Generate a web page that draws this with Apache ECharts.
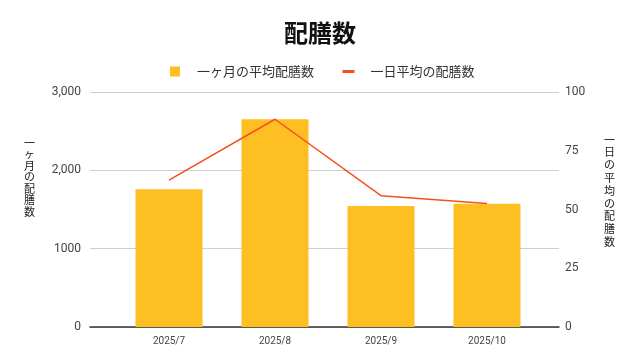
<!DOCTYPE html>
<html>
<head>
<meta charset="utf-8">
<script src="https://cdn.jsdelivr.net/npm/echarts@6/dist/echarts.min.js"></script>
<style>html,body{margin:0;padding:0;background:#fff;}#c{width:640px;height:360px;}</style>
</head>
<body>
<div id="c"></div>
<script>
var titleText = '配膳数';
var categories = ['2025/7', '2025/8', '2025/9', '2025/10'];
var monthlyName = '一ヶ月の平均配膳数';
var dailyName = '一日平均の配膳数';
var monthlyValues = [1758, 2651, 1545, 1574];
var dailyValues = [62.5, 88.4, 55.9, 52.6];
var leftTickLabels = {0: '0', 1000: '1000', 2000: '2,000', 3000: '3,000'};
var leftAxisName = '一ヶ月の配膳数';
var rightAxisName = '一日の平均の配膳数';

var cjk = "'Noto Sans CJK JP', 'Noto Sans', sans-serif";
var num = "Roboto, sans-serif";
var chart = echarts.init(document.getElementById('c'));
chart.setOption({
  animation: false,
  backgroundColor: '#fff',
  title: {
    text: titleText, left: 'center', top: 16,
    textStyle: {fontFamily: cjk, fontSize: 24, fontWeight: 'bold', color: '#111'}
  },
  legend: {
    top: 60, left: 165, itemGap: 27, itemWidth: 12, itemHeight: 10,
    textStyle: {fontFamily: cjk, fontSize: 13, color: '#333', padding: [0, 0, 0, 11]},
    data: [
      {name: monthlyName, icon: 'path://M0,0L10,0L10,10L0,10Z', itemStyle: {color: '#fdbf21'}},
      {name: dailyName, lineStyle: {width: 3, color: '#f4511e'}, itemStyle: {opacity: 0}}
    ]
  },
  graphic: [
    {type: 'text', left: 24, top: 137, style: {text: leftAxisName.split('').join('\n'), font: "11px 'Noto Sans CJK JP'", fill: '#222', lineHeight: 11.5, align: 'center'}},
    {type: 'text', left: 604, top: 133, style: {text: rightAxisName.split('').join('\n'), font: "11px 'Noto Sans CJK JP'", fill: '#222', lineHeight: 12.8, align: 'center'}}
  ],
  grid: [
    {left: 90, right: 81, top: 92, bottom: 33},
    {left: 116, right: 100, top: 92, bottom: 33}
  ],
  xAxis: [
    {type: 'value', gridIndex: 0, min: 0, max: 1, axisLabel: {show: false}, axisTick: {show: false}, splitLine: {show: false},
     axisLine: {show: true, lineStyle: {color: '#333', width: 1.5}}},
    {type: 'category', gridIndex: 1, data: categories, axisLine: {show: false}, axisTick: {show: false},
     axisLabel: {margin: 9, fontFamily: num, fontSize: 10, color: '#444'}}
  ],
  yAxis: [
    {type: 'value', gridIndex: 0, min: 0, max: 3000, interval: 1000, position: 'left',
     axisLine: {show: false}, axisTick: {show: false},
     splitLine: {show: true, lineStyle: {color: '#cfcfcf', width: 1}},
     axisLabel: {margin: 9, fontFamily: num, fontSize: 12, color: '#444', formatter: function (v) { return leftTickLabels[v]; }}},
    {type: 'value', gridIndex: 0, min: 0, max: 100, interval: 25, position: 'right',
     axisLine: {show: false}, axisTick: {show: false}, splitLine: {show: false},
     axisLabel: {margin: 6, fontFamily: num, fontSize: 12, color: '#444'}},
    {type: 'value', gridIndex: 1, min: 0, max: 3000, show: false},
    {type: 'value', gridIndex: 1, min: 0, max: 100, show: false, position: 'right'}
  ],
  series: [
    {name: monthlyName, type: 'bar', xAxisIndex: 1, yAxisIndex: 2, data: monthlyValues, barWidth: 67,
     itemStyle: {color: '#fdbf21'}},
    {name: dailyName, type: 'line', xAxisIndex: 1, yAxisIndex: 3, data: dailyValues, symbol: 'none',
     lineStyle: {color: '#f4511e', width: 1.5}, itemStyle: {color: '#f4511e'}}
  ]
});
</script>
</body>
</html>
